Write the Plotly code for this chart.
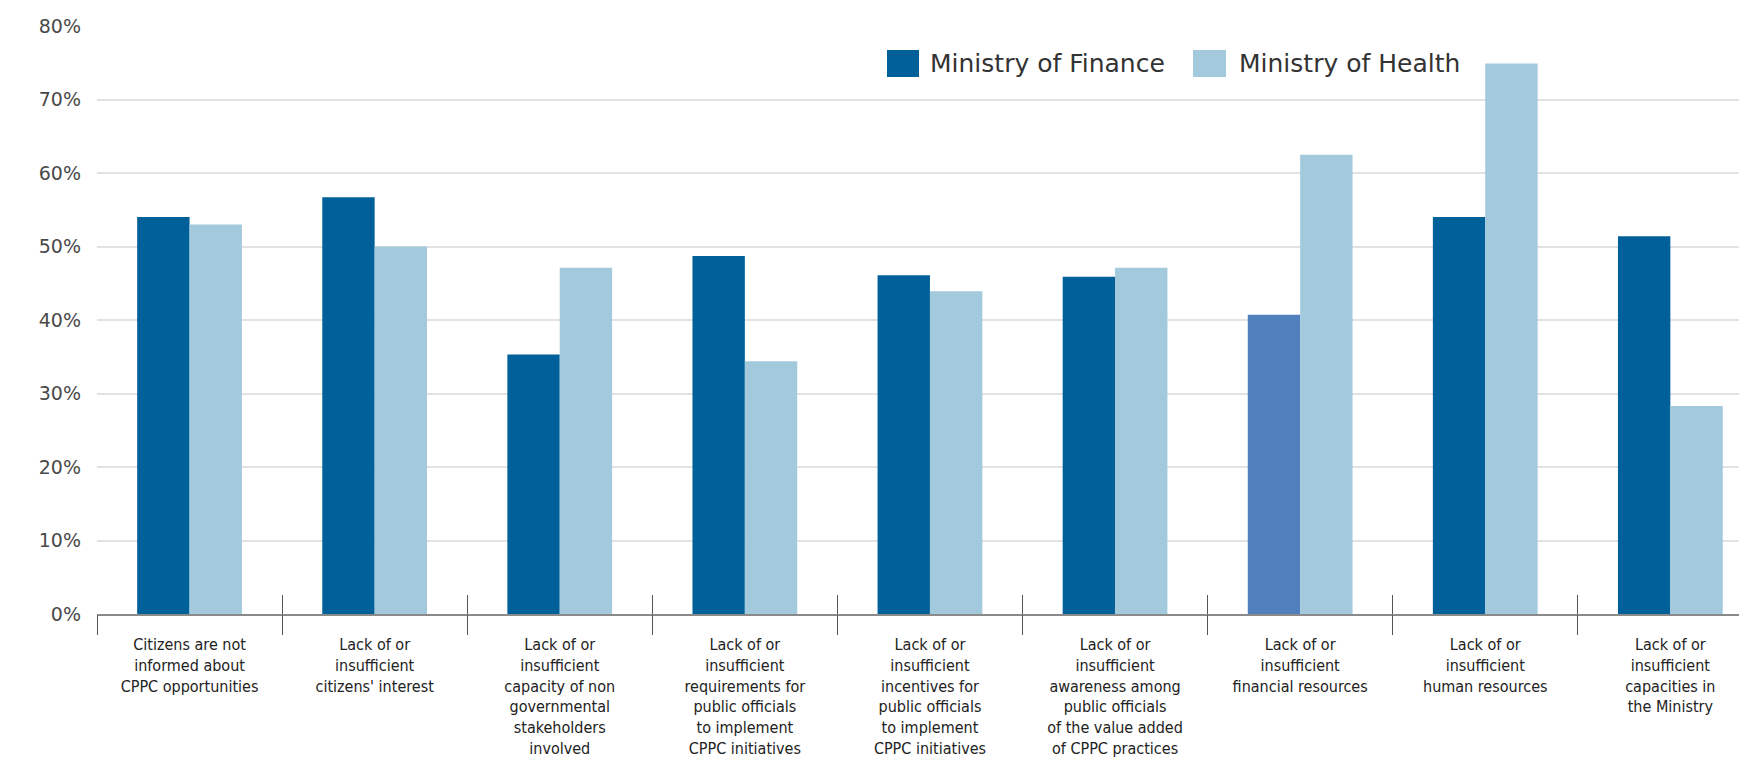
import plotly.graph_objects as go

categories = [
    "Citizens are not<br>informed about<br>CPPC opportunities",
    "Lack of or<br>insufficient<br>citizens' interest",
    "Lack of or<br>insufficient<br>capacity of non<br>governmental<br>stakeholders<br>involved",
    "Lack of or<br>insufficient<br>requirements for<br>public officials<br>to implement<br>CPPC initiatives",
    "Lack of or<br>insufficient<br>incentives for<br>public officials<br>to implement<br>CPPC initiatives",
    "Lack of or<br>insufficient<br>awareness among<br>public officials<br>of the value added<br>of CPPC practices",
    "Lack of or<br>insufficient<br>financial resources",
    "Lack of or<br>insufficient<br>human resources",
    "Lack of or<br>insufficient<br>capacities in<br>the Ministry",
]
finance = [54.0, 56.7, 35.3, 48.7, 46.1, 45.9, 40.7, 54.0, 51.4]
health = [53.0, 50.0, 47.1, 34.4, 43.9, 47.1, 62.5, 74.9, 28.3]
series_names = ["Ministry of Finance", "Ministry of Health"]
y_ticks = [0, 10, 20, 30, 40, 50, 60, 70, 80]

DARK = "#00609a"
LIGHT = "#a3c9dc"
MID = "#4f80bd"
finance_colors = [MID if i == 6 else DARK for i in range(len(categories))]

W, H = 1747, 761
ML, MR, MT, MB = 89, 0, 18, 155
PW = W - ML - MR
PH = H - MT - MB
cat_px = 185.1
xr = [-0.5, -0.5 + PW / cat_px]

fig = go.Figure()
fig.add_trace(go.Bar(x=categories, y=finance, name=series_names[0],
                     marker=dict(color=finance_colors, line=dict(width=0)),
                     showlegend=False))
fig.add_trace(go.Bar(x=categories, y=health, name=series_names[1],
                     marker=dict(color=LIGHT, line=dict(width=0)),
                     showlegend=False))
# helper traces for boundary tick axes
fig.add_trace(go.Scatter(x=[], y=[], xaxis="x2", yaxis="y", showlegend=False, hoverinfo="skip"))
fig.add_trace(go.Scatter(x=[], y=[], xaxis="x3", yaxis="y", showlegend=False, hoverinfo="skip"))

bounds = [i - 0.5 for i in range(len(categories) + 1)]

def px2paper_x(px):
    return (px - ML) / PW

def px2paper_y(py):
    return (H - MB - py) / PH

# custom legend (large squares)
legend_items = [
    (series_names[0], DARK, 879, 911, 920),
    (series_names[1], LIGHT, 1185, 1218, 1229),
]
shapes = []
annotations = []
for name, col, x0, x1, tx in legend_items:
    shapes.append(dict(type="rect", xref="paper", yref="paper",
                       x0=px2paper_x(x0), x1=px2paper_x(x1),
                       y0=px2paper_y(69), y1=px2paper_y(42),
                       fillcolor=col, line=dict(width=0)))
    annotations.append(dict(text=name, xref="paper", yref="paper",
                            x=px2paper_x(tx), y=px2paper_y(55.5),
                            xanchor="left", yanchor="middle", showarrow=False,
                            font=dict(family="DejaVu Sans", size=25, color="#333333")))

fig.update_layout(
    width=W, height=H,
    margin=dict(l=ML, r=MR, t=MT, b=MB, pad=0, autoexpand=False),
    paper_bgcolor="white", plot_bgcolor="white",
    barmode="group", bargap=0.434, bargroupgap=0,
    shapes=shapes, annotations=annotations,
    xaxis=dict(type="category", range=xr, ticks="", showgrid=False, automargin=False,
               showline=True, linecolor="#8a8a8a", linewidth=1.5,
               tickfont=dict(family="DejaVu Sans Condensed, Liberation Sans Narrow, Roboto, sans-serif",
                             size=16, color="#222222"),
               ticklabelstandoff=15, zeroline=False, fixedrange=True),
    xaxis2=dict(overlaying="x", anchor="y", range=xr, tickmode="array", tickvals=bounds,
                automargin=False,
                showticklabels=False, ticks="inside", ticklen=19, tickwidth=1.3,
                tickcolor="#555555", showgrid=False, zeroline=False, showline=False),
    xaxis3=dict(overlaying="x", anchor="y", range=xr, tickmode="array", tickvals=bounds,
                automargin=False,
                showticklabels=False, ticks="outside", ticklen=20, tickwidth=1.3,
                tickcolor="#555555", showgrid=False, zeroline=False, showline=False),
    yaxis=dict(range=[0, 80], tickmode="array", tickvals=y_ticks, automargin=False,
               ticktext=[f"{v}%" for v in y_ticks],
               showgrid=True, gridcolor="#e2e2e2", gridwidth=1.5,
               zeroline=False, showline=False, ticks="",
               tickfont=dict(family="DejaVu Sans", size=19, color="#4a4a4a"),
               ticklabelstandoff=15),
)

fig.write_html("out.html")
